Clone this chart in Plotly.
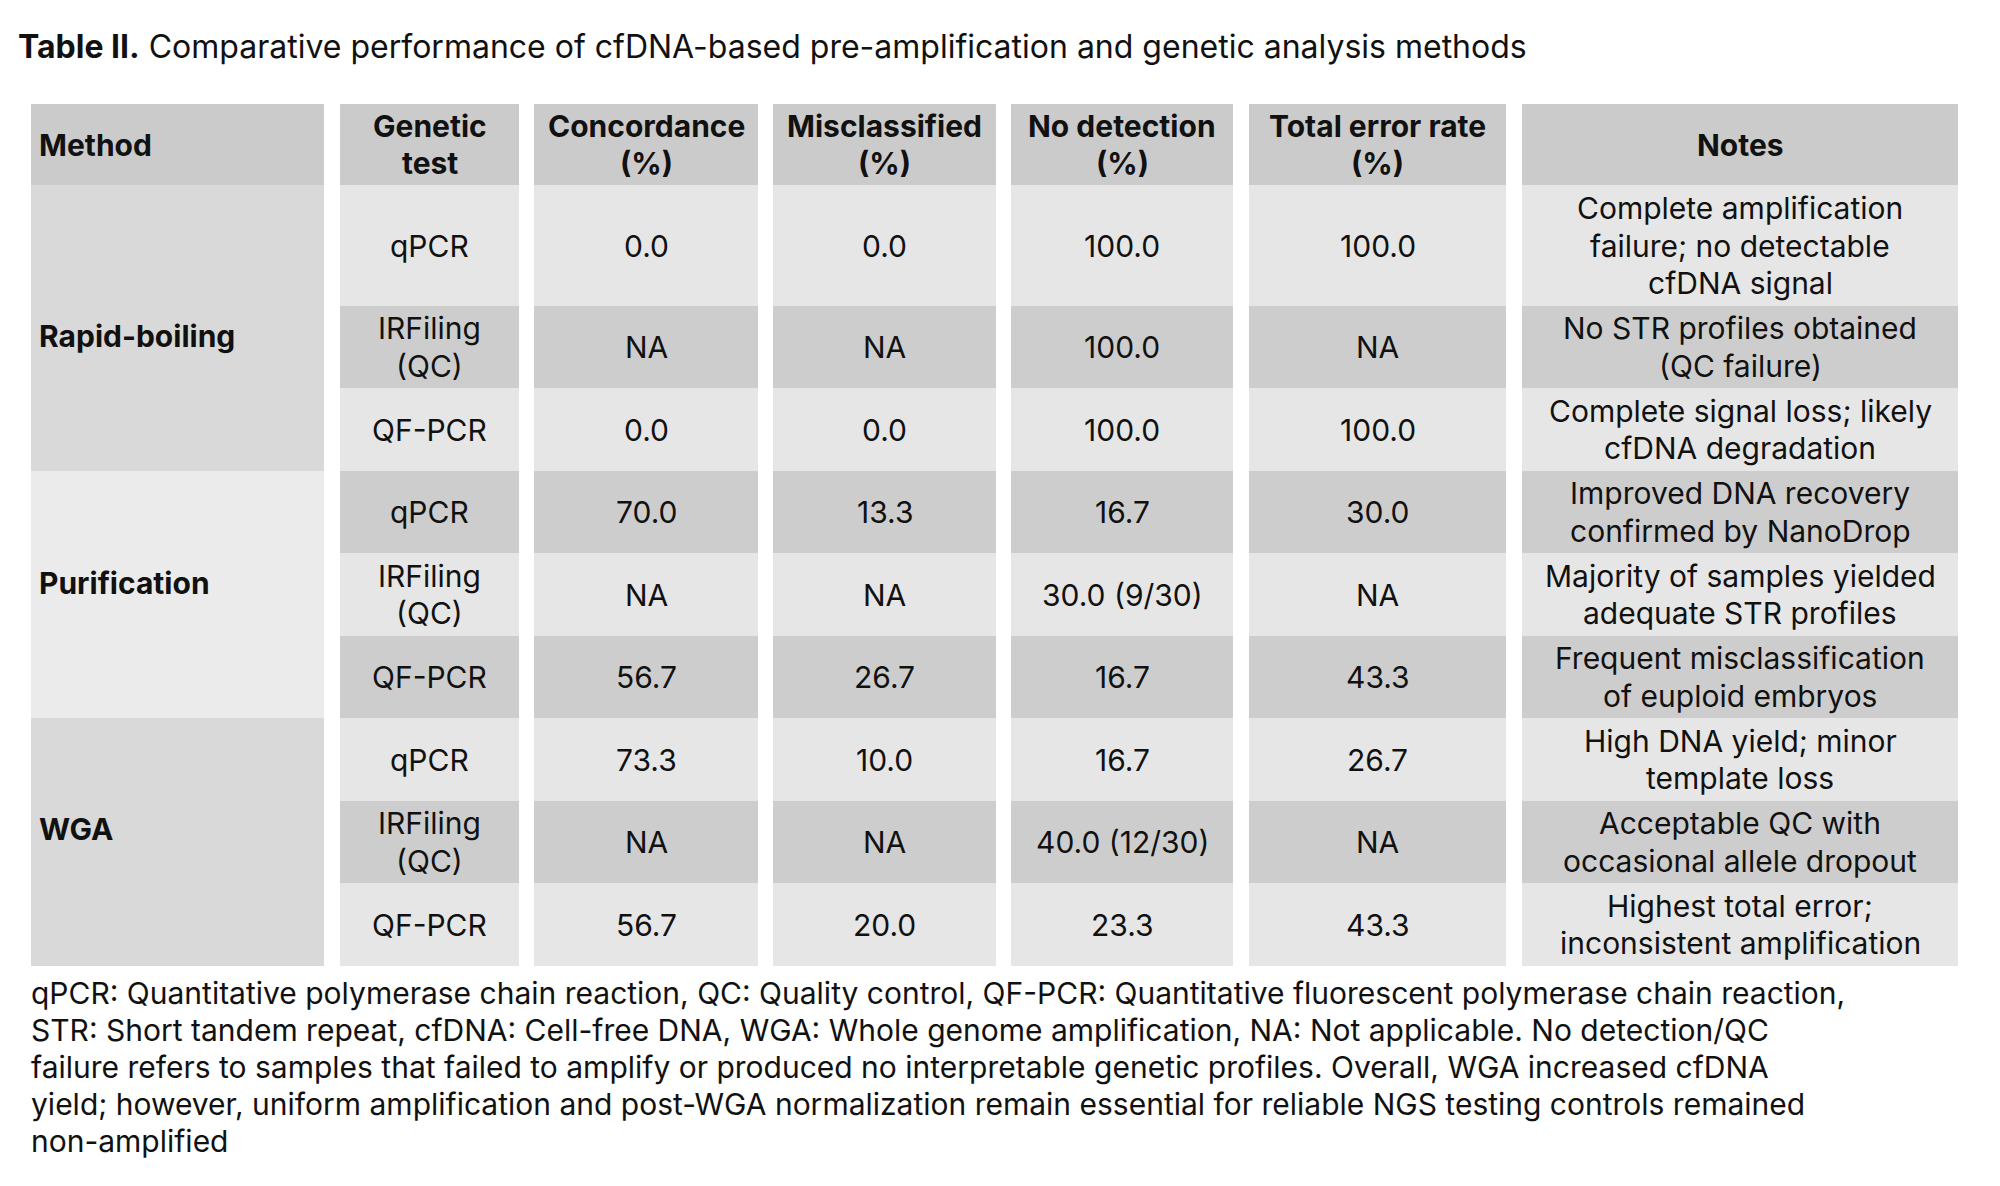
import plotly.graph_objects as go

# ---- data ----
methods = ["Rapid-boiling", "Purification", "WGA"]
tests = ["qPCR", "IRFiling\n(QC)", "QF-PCR"] * 3
concordance = ["0.0", "NA", "0.0", "70.0", "NA", "56.7", "73.3", "NA", "56.7"]
misclassified = ["0.0", "NA", "0.0", "13.3", "NA", "26.7", "10.0", "NA", "20.0"]
no_detection = ["100.0", "100.0", "100.0", "16.7", "30.0 (9/30)", "16.7",
                "16.7", "40.0 (12/30)", "23.3"]
total_error = ["100.0", "NA", "100.0", "30.0", "NA", "43.3", "26.7", "NA", "43.3"]
notes = [
    "Complete amplification\nfailure; no detectable\ncfDNA signal",
    "No STR profiles obtained\n(QC failure)",
    "Complete signal loss; likely\ncfDNA degradation",
    "Improved DNA recovery\nconfirmed by NanoDrop",
    "Majority of samples yielded\nadequate STR profiles",
    "Frequent misclassification\nof euploid embryos",
    "High DNA yield; minor\ntemplate loss",
    "Acceptable QC with\noccasional allele dropout",
    "Highest total error;\ninconsistent amplification",
]
headers = ["Method", "Genetic\ntest", "Concordance\n(%)", "Misclassified\n(%)",
           "No detection\n(%)", "Total error rate\n(%)", "Notes"]

title_bold = "Table II."
title_rest = " Comparative performance of cfDNA-based pre-amplification and genetic analysis methods"
footnote = [
    "qPCR: Quantitative polymerase chain reaction, QC: Quality control, QF-PCR: Quantitative fluorescent polymerase chain reaction,",
    "STR: Short tandem repeat, cfDNA: Cell-free DNA, WGA: Whole genome amplification, NA: Not applicable. No detection/QC",
    "failure refers to samples that failed to amplify or produced no interpretable genetic profiles. Overall, WGA increased cfDNA",
    "yield; however, uniform amplification and post-WGA normalization remain essential for reliable NGS testing controls remained",
    "non-amplified",
]

# ---- layout geometry (page pixels) ----
W, H = 2000, 1186
OFF = 8  # html body margin
col_edges = [(31, 324), (340, 519), (534, 758), (773, 996),
             (1011, 1233), (1249, 1506), (1522, 1958)]
head_y = (104, 185)
row_edges = [185, 306, 388, 471, 553, 636, 718, 801, 883, 966]
method_label_y = [336, 583, 829]
LH = 37.5
FONT = "Inter"
FS = 30
TXT = "#111111"

C_HEAD = "#cbcbcb"
C_LIGHT = "#e6e6e6"
C_DARK = "#cdcdcd"
C_METHOD = ["#d9d9d9", "#ebebeb", "#d9d9d9"]

shapes = []
annotations = []


def rect(x0, x1, y0, y1, color):
    shapes.append(dict(type="rect", xref="x", yref="y", x0=x0, x1=x1, y0=y0, y1=y1,
                       fillcolor=color, line=dict(width=0), layer="below"))


def cell_text(text, xc, yc, bold=False, align="center"):
    lines = text.split("\n")
    n = len(lines)
    for i, ln in enumerate(lines):
        y = yc + (i - (n - 1) / 2) * LH
        annotations.append(dict(
            x=xc, y=y, xref="x", yref="y", text=f"<b>{ln}</b>" if bold else ln,
            showarrow=False, xanchor="left" if align == "left" else "center",
            yanchor="middle", font=dict(family=FONT, size=FS, color=TXT)))


# header
for j, (x0, x1) in enumerate(col_edges):
    rect(x0, x1, head_y[0], head_y[1], C_HEAD)
    if j == 0:
        cell_text(headers[j], x0 + 6, (head_y[0] + head_y[1]) / 2, bold=True, align="left")
    else:
        cell_text(headers[j], (x0 + x1) / 2, (head_y[0] + head_y[1]) / 2, bold=True)

# method column (merged cells)
mx0, mx1 = col_edges[0]
for g, m in enumerate(methods):
    y0, y1 = row_edges[g * 3], row_edges[g * 3 + 3]
    rect(mx0, mx1, y0, y1, C_METHOD[g])
    cell_text(m, mx0 + 6, method_label_y[g], bold=True, align="left")

# body rows
columns = [tests, concordance, misclassified, no_detection, total_error, notes]
for r in range(len(tests)):
    y0, y1 = row_edges[r], row_edges[r + 1]
    color = C_LIGHT if r % 2 == 0 else C_DARK
    for j, col in enumerate(columns, start=1):
        x0, x1 = col_edges[j]
        rect(x0, x1, y0, y1, color)
        cell_text(col[r], (x0 + x1) / 2, (y0 + y1) / 2)

# title
annotations.append(dict(
    x=16, y=46, xref="x", yref="y", xanchor="left", yanchor="middle", showarrow=False,
    text=f"<b>{title_bold}</b>{title_rest}",
    font=dict(family=FONT, size=32, color=TXT)))

# footnote
for i, ln in enumerate(footnote):
    annotations.append(dict(
        x=29, y=993 + i * 37, xref="x", yref="y", xanchor="left", yanchor="middle",
        showarrow=False, text=ln, font=dict(family=FONT, size=FS, color=TXT)))

fig = go.Figure()
fig.add_trace(go.Scatter(x=[OFF, W + OFF], y=[OFF, H + OFF], mode="markers",
                         marker=dict(opacity=0), hoverinfo="skip", showlegend=False))
fig.update_layout(
    width=W, height=H, margin=dict(l=0, r=0, t=0, b=0),
    paper_bgcolor="white", plot_bgcolor="white",
    xaxis=dict(range=[OFF, W + OFF], visible=False, fixedrange=True),
    yaxis=dict(range=[H + OFF, OFF], visible=False, fixedrange=True),
    shapes=shapes, annotations=annotations,
)
fig.write_html("out.html")
